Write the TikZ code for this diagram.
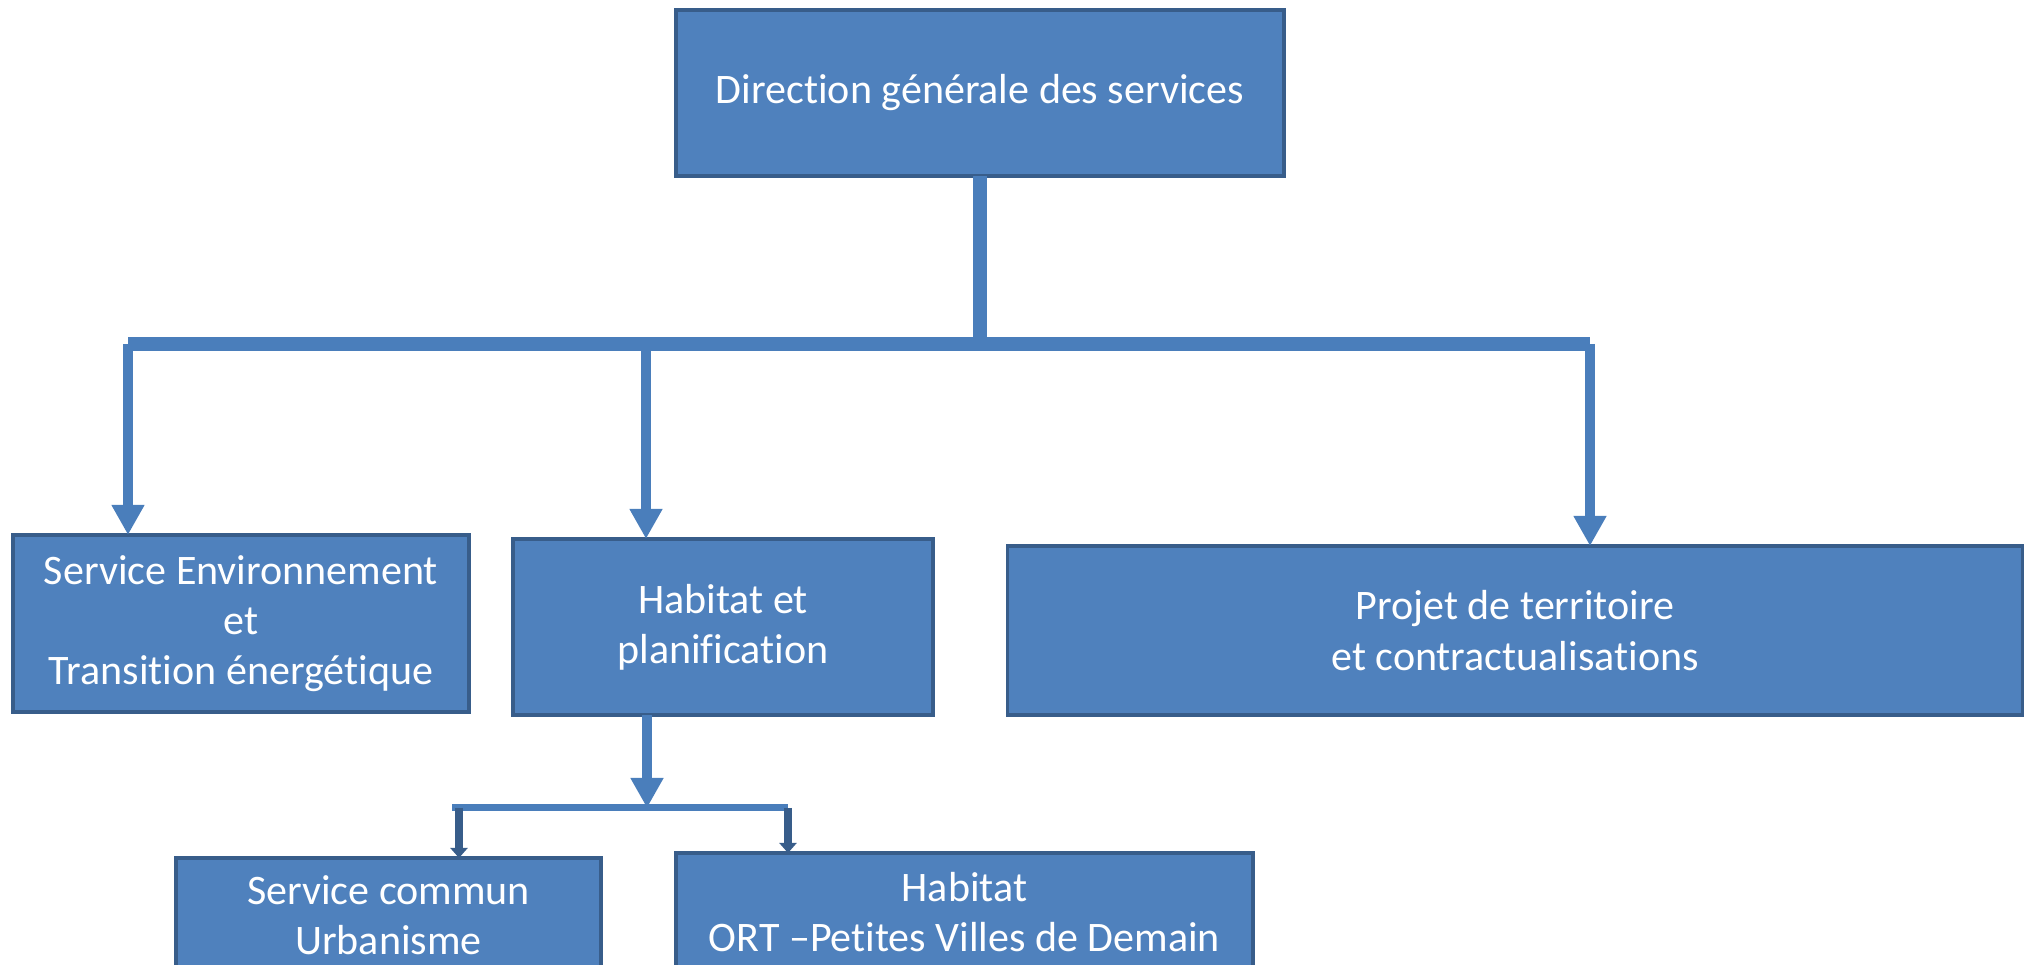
\documentclass[tikz,border=0pt]{standalone}
\usepackage{fontspec}
\setmainfont{Carlito}[Ligatures=NoCommon]
\usetikzlibrary{arrows.meta}
\definecolor{boxfill}{HTML}{4F81BD}
\definecolor{boxline}{HTML}{385D8A}
\definecolor{conn}{HTML}{4A7EBB}
\begin{document}
\begin{tikzpicture}[x=0.01cm,y=-0.01cm,
  box/.style={draw=boxline, fill=boxfill, line width=0.035cm, text=white,
    align=center, inner sep=0pt, outer sep=0pt,
    font=\fontsize{11.95pt}{14.3pt}\selectfont},
  bus/.style={draw=conn, line width=0.135cm},
  bigarrow/.style={draw=conn, line width=0.10cm, -{Triangle[width=0.31cm,length=0.30cm]}},
  subbus/.style={draw=conn, line width=0.07cm},
  smallarrow/.style={draw=boxline, line width=0.085cm, -{Triangle[width=0.17cm,length=0.10cm]}}]

\useasboundingbox (0,0) rectangle (2027,965);

% boxes
\node[box, minimum width=6.08cm, minimum height=1.66cm] (top) at (980,93)
  {Direction générale des services};
\node[box, minimum width=4.56cm, minimum height=1.77cm] (env) at (241,623.5)
  {Service Environnement\\et\\Transition énergétique};
\node[box, minimum width=4.20cm, minimum height=1.76cm] (hab) at (723,627)
  {Habitat et\\planification};
\node[box, minimum width=10.14cm, minimum height=1.69cm] (proj) at (1515,630.5)
  {Projet de territoire\\et contractualisations};
\node[box, minimum width=4.25cm, minimum height=1.14cm] (commun) at (388.5,915)
  {Service commun\\Urbanisme};
\node[box, minimum width=5.77cm, minimum height=1.18cm] (ort) at (964.5,912)
  {Habitat\\ORT –Petites Villes de Demain};

% main tree
\coordinate (busL) at (128,344);
\coordinate (busM) at (646,344);
\coordinate (busR) at (1590,344);
\draw[bus] (top.south) -- (top.south |- busL);
\draw[bus] (busL) -- (busR);
\draw[bigarrow] (busL) -- (busL |- env.north);
\draw[bigarrow] (busM) -- (busM |- hab.north);
\draw[bigarrow] (busR) -- (busR |- proj.north);

% sub tree
\coordinate (subM) at (647,808);
\coordinate (subL) at (459,808);
\coordinate (subR) at (788,808);
\draw[bigarrow] (subM |- hab.south) -- (subM);
\draw[subbus] ([xshift=-0.07cm]subL) -- (subR);
\draw[smallarrow] (subL) -- (subL |- commun.north);
\draw[smallarrow] (subR) -- (subR |- ort.north);
\end{tikzpicture}
\end{document}
